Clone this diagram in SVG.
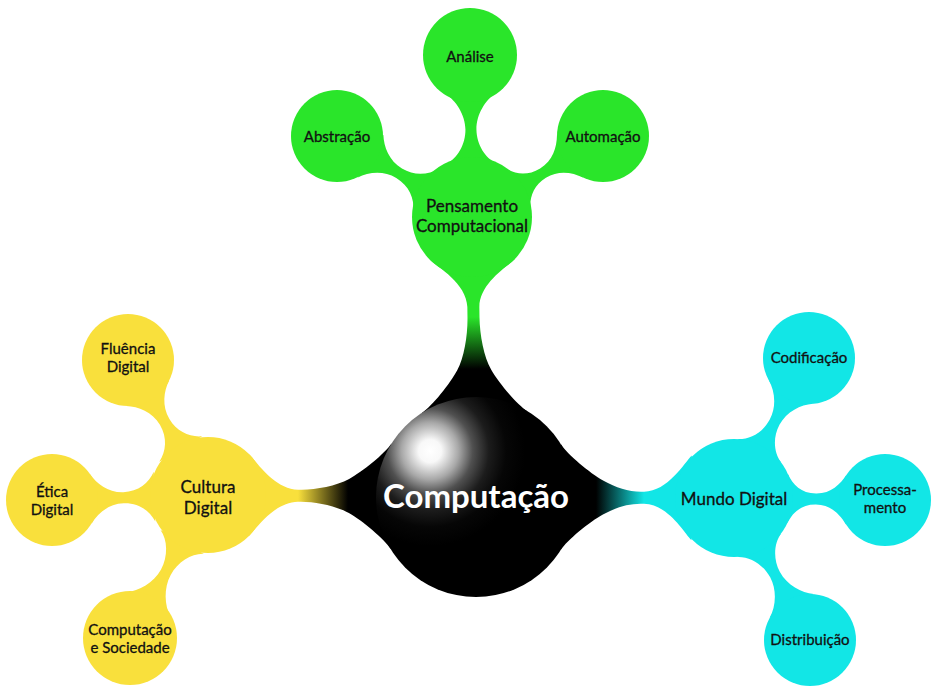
<svg xmlns="http://www.w3.org/2000/svg" width="933" height="691" viewBox="0 0 933 691">
  <style>
    text { font-family: Lato, "Open Sans", "DejaVu Sans", sans-serif; text-anchor: middle; fill: #111; stroke: #111; stroke-width: 0.3px; }
    .root { font-size: 33px; font-weight: bold; fill: #ffffff; stroke: none; }
    .lv1 { font-size: 17px; }
    .lv2 { font-size: 15px; }
    .green { fill: #2ae52a; }
    .yellow { fill: #f9e03c; }
    .cyan { fill: #12e6e6; }
  </style>
  <defs>
    <!-- colour blend along a root branch, in the branch's own rotated frame -->
    <linearGradient id="toGreen" gradientUnits="userSpaceOnUse" x1="128" y1="0" x2="180" y2="0">
      <stop offset="0" stop-color="#000"/>
      <stop offset="1" stop-color="#2ae52a"/>
    </linearGradient>
    <linearGradient id="toYellow" gradientUnits="userSpaceOnUse" x1="128" y1="0" x2="178" y2="0">
      <stop offset="0" stop-color="#000"/>
      <stop offset="1" stop-color="#f9e03c"/>
    </linearGradient>
    <linearGradient id="toCyan" gradientUnits="userSpaceOnUse" x1="120" y1="0" x2="168" y2="0">
      <stop offset="0" stop-color="#000"/>
      <stop offset="1" stop-color="#12e6e6"/>
    </linearGradient>
    <!-- glossy ball shading of the root concept -->
    <radialGradient id="ball" gradientUnits="userSpaceOnUse" cx="430" cy="451" r="95" fx="430" fy="451">
      <stop offset="0" stop-color="#ffffff"/>
      <stop offset="0.12" stop-color="#f8f8f8"/>
      <stop offset="0.3" stop-color="#a8a8a8"/>
      <stop offset="0.45" stop-color="#505050"/>
      <stop offset="0.62" stop-color="#1c1c1c"/>
      <stop offset="0.8" stop-color="#060606"/>
      <stop offset="1" stop-color="#000"/>
    </radialGradient>
  </defs>

  <!-- connection bars -->
  <g id="connectors">
    <!-- root to level 1 -->
    <path transform="translate(476,497) rotate(-90.8)" fill="url(#toGreen)"
      d="M84.8,-53 C91.2,-42.8 113.9,-24.2 127,-17 C140.1,-9.8 162,-6 180,-6 L190,-6 C214,-6.5 230.5,-35.3 237.6,-42.4 L237.6,42.4 C230.5,35.3 214,6.5 190,6 L180,6 C162,6 140.1,9.8 127,17 C113.9,24.2 91.2,42.8 84.8,53 Z"/>
    <path transform="translate(476,497) rotate(180.43)" fill="url(#toYellow)"
      d="M84.8,-53 C91.2,-42.8 113.9,-24.2 127,-17 C140.1,-9.8 160,-6 175,-6 L178,-6 C202,-6.5 220,-34 227,-41 L227,41 C220,34 202,6.5 178,6 L175,6 C160,6 140.1,9.8 127,17 C113.9,24.2 91.2,42.8 84.8,53 Z"/>
    <path transform="translate(476,497) rotate(0.22)" fill="url(#toCyan)"
      d="M84.8,-53 C91.2,-42.8 113.9,-24.2 127,-17 C140.1,-9.8 152,-6 165,-6 L168,-6 C192,-6.5 208.5,-35.3 215.6,-42.4 L215.6,42.4 C208.5,35.3 192,6.5 168,6 L165,6 C152,6 140.1,9.8 127,17 C113.9,24.2 91.2,42.8 84.8,53 Z"/>

    <!-- level 1 to level 2 -->
    <path class="green" transform="translate(472,217) rotate(-90.7)"
      d="M53.5,-24.9 C58.6,-14 72.5,-5.5 87.5,-5.5 C102.5,-5.5 116.8,-14.8 123.3,-24.9 L123.3,24.9 C116.8,14.8 102.5,5.5 87.5,5.5 C72.5,5.5 58.6,14 53.5,24.9 Z"/>
    <path class="green" transform="translate(472,217) rotate(-149.04)"
      d="M53.5,-24.9 C58.6,-14 70,-5.5 85,-5.5 C100,-5.5 111.8,-14.8 118.3,-24.9 L118.3,24.9 C111.8,14.8 100,5.5 85,5.5 C70,5.5 58.6,14 53.5,24.9 Z"/>
    <path class="green" transform="translate(472,217) rotate(-31.73)"
      d="M53.5,-24.9 C58.6,-14 68.5,-5.5 83.5,-5.5 C98.5,-5.5 108.8,-14.8 115.3,-24.9 L115.3,24.9 C108.8,14.8 98.5,5.5 83.5,5.5 C68.5,5.5 58.6,14 53.5,24.9 Z"/>

    <path class="yellow" transform="translate(208,495) rotate(-120.65)"
      d="M53.5,-24.9 C58.6,-14 70,-5.5 85,-5.5 C100,-5.5 111.8,-14.8 118.3,-24.9 L118.3,24.9 C111.8,14.8 100,5.5 85,5.5 C70,5.5 58.6,14 53.5,24.9 Z"/>
    <path class="yellow" transform="translate(208,495) rotate(178.16)"
      d="M53.5,-24.9 C58.6,-14 69.5,-5.5 84.5,-5.5 C99.5,-5.5 110.8,-14.8 117.3,-24.9 L117.3,24.9 C110.8,14.8 99.5,5.5 84.5,5.5 C69.5,5.5 58.6,14 53.5,24.9 Z"/>
    <path class="yellow" transform="translate(208,495) rotate(118.61)"
      d="M53.5,-24.9 C58.6,-14 73,-5.5 88,-5.5 C103,-5.5 117.8,-14.8 124.3,-24.9 L124.3,24.9 C117.8,14.8 103,5.5 88,5.5 C73,5.5 58.6,14 53.5,24.9 Z"/>

    <path class="cyan" transform="translate(734,498) rotate(-61.82)"
      d="M53.5,-24.9 C58.6,-14 71,-5.5 86,-5.5 C101,-5.5 113.8,-14.8 120.3,-24.9 L120.3,24.9 C113.8,14.8 101,5.5 86,5.5 C71,5.5 58.6,14 53.5,24.9 Z"/>
    <path class="cyan" transform="translate(734,498) rotate(0.76)"
      d="M53.5,-24.9 C58.6,-14 67,-5.5 82,-5.5 C97,-5.5 105.8,-14.8 112.3,-24.9 L112.3,24.9 C105.8,14.8 97,5.5 82,5.5 C67,5.5 58.6,14 53.5,24.9 Z"/>
    <path class="cyan" transform="translate(734,498) rotate(61.84)"
      d="M53.5,-24.9 C58.6,-14 72,-5.5 87,-5.5 C102,-5.5 115.8,-14.8 122.3,-24.9 L122.3,24.9 C115.8,14.8 102,5.5 87,5.5 C72,5.5 58.6,14 53.5,24.9 Z"/>
  </g>

  <!-- root concept -->
  <g id="computacao">
    <circle cx="476" cy="497" r="100" fill="url(#ball)"/>
    <text class="root" x="476" y="508">Computação</text>
  </g>

  <!-- Pensamento Computacional branch -->
  <g id="pensamento-computacional">
    <circle class="green" cx="472" cy="217" r="60"/>
    <text class="lv1" x="472" y="212">Pensamento</text>
    <text class="lv1" x="472" y="232">Computacional</text>
  </g>
  <g id="analise">
    <circle class="green" cx="470" cy="55" r="47"/>
    <text class="lv2" x="470" y="62">Análise</text>
  </g>
  <g id="abstracao">
    <circle class="green" cx="337" cy="136" r="46"/>
    <text class="lv2" x="337" y="142">Abstração</text>
  </g>
  <g id="automacao">
    <circle class="green" cx="603" cy="136" r="46"/>
    <text class="lv2" x="603" y="142">Automação</text>
  </g>

  <!-- Cultura Digital branch -->
  <g id="cultura-digital">
    <circle class="yellow" cx="208" cy="495" r="58"/>
    <text class="lv1" x="208" y="493">Cultura</text>
    <text class="lv1" x="208" y="514">Digital</text>
  </g>
  <g id="fluencia-digital">
    <circle class="yellow" cx="128" cy="360" r="46"/>
    <text class="lv2" x="128" y="354">Fluência</text>
    <text class="lv2" x="128" y="372">Digital</text>
  </g>
  <g id="etica-digital">
    <circle class="yellow" cx="52" cy="500" r="46"/>
    <text class="lv2" x="52" y="497">Ética</text>
    <text class="lv2" x="52" y="515">Digital</text>
  </g>
  <g id="computacao-e-sociedade">
    <circle class="yellow" cx="130" cy="638" r="47"/>
    <text class="lv2" x="130" y="635">Computação</text>
    <text class="lv2" x="130" y="653">e Sociedade</text>
  </g>

  <!-- Mundo Digital branch -->
  <g id="mundo-digital">
    <circle class="cyan" cx="734" cy="498" r="59"/>
    <text class="lv1" x="734" y="505">Mundo Digital</text>
  </g>
  <g id="codificacao">
    <circle class="cyan" cx="809" cy="358" r="46"/>
    <text class="lv2" x="809" y="363">Codificação</text>
  </g>
  <g id="processamento">
    <circle class="cyan" cx="885" cy="500" r="46"/>
    <text class="lv2" x="885" y="495">Processa-</text>
    <text class="lv2" x="885" y="513">mento</text>
  </g>
  <g id="distribuicao">
    <circle class="cyan" cx="810" cy="640" r="46"/>
    <text class="lv2" x="810" y="645">Distribuição</text>
  </g>
</svg>
